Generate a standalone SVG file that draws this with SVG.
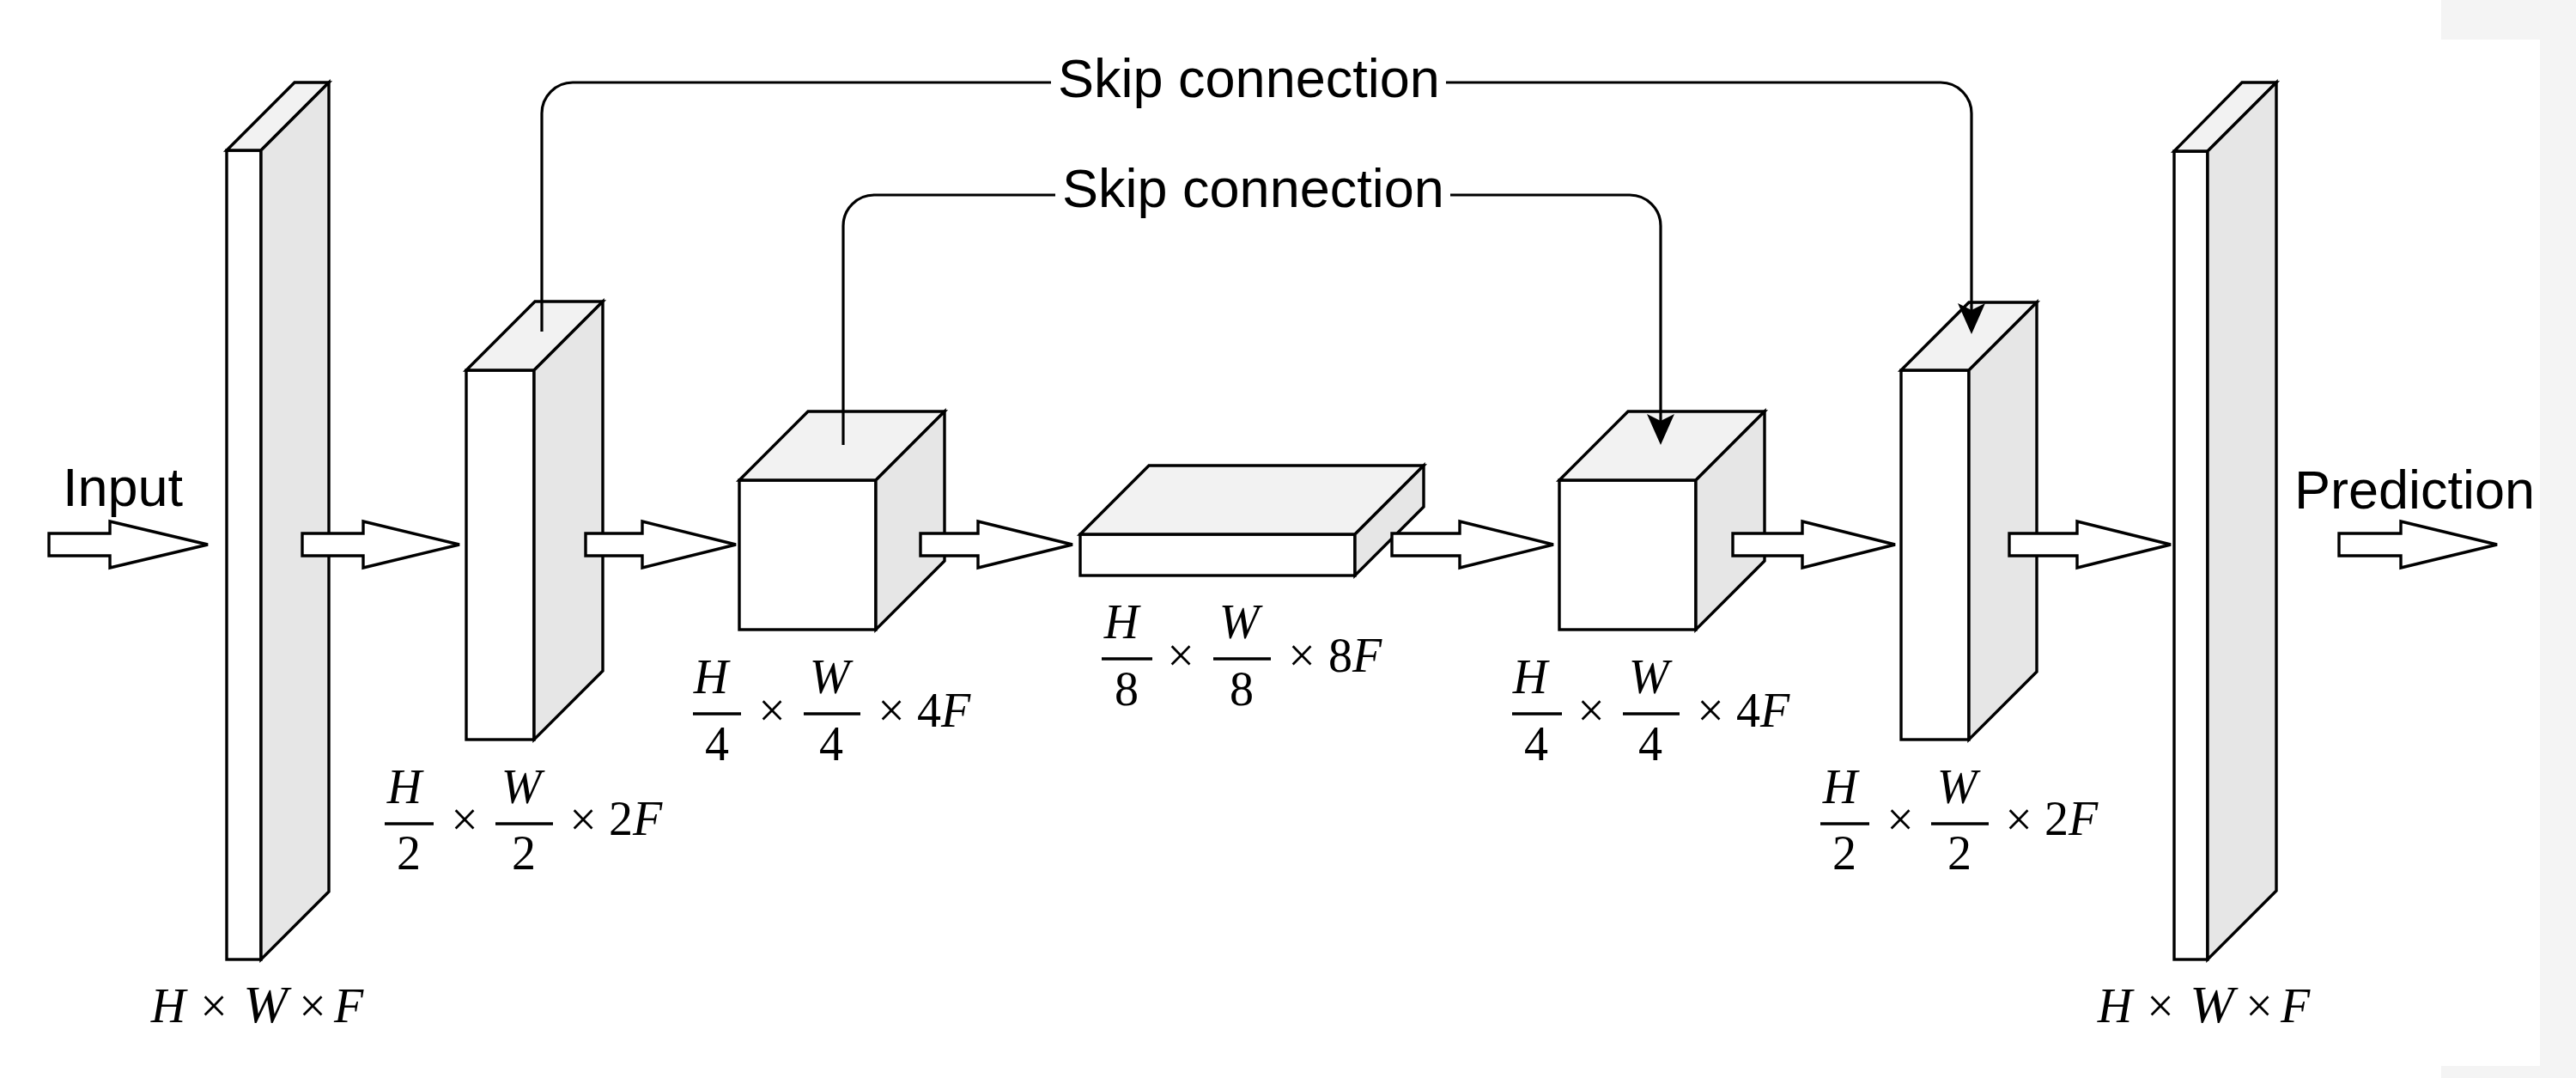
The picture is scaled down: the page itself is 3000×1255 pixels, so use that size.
<svg xmlns="http://www.w3.org/2000/svg" width="3000" height="1255" viewBox="0 0 3000 1255">
<style>
.front{fill:#ffffff;stroke:#000;stroke-width:3.4;stroke-linejoin:miter}
.top{fill:#f2f2f2;stroke:#000;stroke-width:3.4;stroke-linejoin:miter}
.side{fill:#e6e6e6;stroke:#000;stroke-width:3.4;stroke-linejoin:miter}
.barrow{fill:#ffffff;stroke:#000;stroke-width:3.4;stroke-linejoin:miter}
.skip{fill:none;stroke:#000;stroke-width:3.2}
.lbl{font-family:"Liberation Sans",Arial,sans-serif;font-size:63px;fill:#000}
.m{font-family:"Liberation Serif","Times New Roman",serif;font-size:56px;fill:#000}
.i{font-style:italic}
.bar{stroke:#000;stroke-width:3.5}
</style>
<defs>
<marker id="ah" markerUnits="userSpaceOnUse" markerWidth="40" markerHeight="40" viewBox="-10 -20 40 40" refX="0" refY="0" orient="auto" overflow="visible">
<path d="M28,0 L-8,-16 L0,0 L-8,16 Z" fill="#000"/>
</marker>
</defs>
<rect x="0" y="0" width="3000" height="1255" fill="#ffffff"/>
<rect x="2843" y="0" width="157" height="1255" fill="#f4f4f4"/>
<rect x="2843" y="46" width="115" height="1195" fill="#ffffff"/>

<g id="block1">
<rect class="front" x="264" y="175" width="40" height="942"/>
<polygon class="top" points="264,175 343,96 383,96 304,175"/>
<polygon class="side" points="304,175 383,96 383,1038 304,1117"/>
</g>
<g id="block2">
<rect class="front" x="543" y="431" width="79" height="430"/>
<polygon class="top" points="543,431 623,351 702,351 622,431"/>
<polygon class="side" points="622,431 702,351 702,781 622,861"/>
</g>
<g id="block3">
<rect class="front" x="861" y="559" width="159" height="174"/>
<polygon class="top" points="861,559 941,479 1100,479 1020,559"/>
<polygon class="side" points="1020,559 1100,479 1100,653 1020,733"/>
</g>
<g id="block4">
<rect class="front" x="1258" y="622" width="320" height="48"/>
<polygon class="top" points="1258,622 1338,542 1658,542 1578,622"/>
<polygon class="side" points="1578,622 1658,542 1658,590 1578,670"/>
</g>
<g id="block5">
<rect class="front" x="1816" y="559" width="159" height="174"/>
<polygon class="top" points="1816,559 1896,479 2055,479 1975,559"/>
<polygon class="side" points="1975,559 2055,479 2055,653 1975,733"/>
</g>
<g id="block6">
<rect class="front" x="2214" y="431" width="79" height="430"/>
<polygon class="top" points="2214,431 2293,352 2372,352 2293,431"/>
<polygon class="side" points="2293,431 2372,352 2372,782 2293,861"/>
</g>
<g id="block7">
<rect class="front" x="2532" y="176" width="39" height="941"/>
<polygon class="top" points="2532,176 2611,96 2651,96 2571,176"/>
<polygon class="side" points="2571,176 2651,96 2651,1037 2571,1117"/>
</g>

<g id="flow-arrows">
<polygon class="barrow" points="57,621 128,621 128,607 242,634 128,661 128,647 57,647"/>
<polygon class="barrow" points="352,621 423,621 423,607 535,634 423,661 423,647 352,647"/>
<polygon class="barrow" points="682,621 748,621 748,607 857,634 748,661 748,647 682,647"/>
<polygon class="barrow" points="1072,621 1139,621 1139,607 1249,634 1139,661 1139,647 1072,647"/>
<polygon class="barrow" points="1621,621 1700,621 1700,607 1809,634 1700,661 1700,647 1621,647"/>
<polygon class="barrow" points="2018,621 2099,621 2099,607 2207,634 2099,661 2099,647 2018,647"/>
<polygon class="barrow" points="2340,621 2419,621 2419,607 2528,634 2419,661 2419,647 2340,647"/>
<polygon class="barrow" points="2724,621 2796,621 2796,607 2908,634 2796,661 2796,647 2724,647"/>
</g>

<g id="connectors">
<path class="skip" d="M631,386 V132 A36,36 0 0 1 667,96 H1224"/>
<path class="skip" d="M1684,96 H2260 A36,36 0 0 1 2296,132 V361" marker-end="url(#ah)"/>
<path class="skip" d="M982,518 V263 A36,36 0 0 1 1018,227 H1229"/>
<path class="skip" d="M1689,227 H1898 A36,36 0 0 1 1934,263 V490" marker-end="url(#ah)"/>
</g>

<g id="labels">
<text class="lbl" x="1232" y="113">Skip connection</text>
<text class="lbl" x="1237" y="241">Skip connection</text>
<text class="lbl" x="73" y="589">Input</text>
<text class="lbl" x="2672" y="592">Prediction</text>
</g>

<g id="dim-block1" text-anchor="middle">
<text class="m i" x="196" y="1190">H</text>
<text class="m" x="249" y="1190">×</text>
<text class="m i" x="309" y="1190" style="font-size:62px">W</text>
<text class="m" x="364" y="1190">×</text>
<text class="m i" x="406" y="1190">F</text>
</g>
<g id="dim-block2" text-anchor="middle">
<text class="m i" x="471" y="935">H</text>
<line class="bar" x1="448" y1="959" x2="505" y2="959"/>
<text class="m" x="476" y="1012">2</text>
<text class="m" x="541" y="973">×</text>
<text class="m i" x="607" y="935">W</text>
<line class="bar" x1="577" y1="959" x2="644" y2="959"/>
<text class="m" x="610" y="1012">2</text>
<text class="m" x="679" y="973">×</text>
<text class="m" x="709" y="972" text-anchor="start">2<tspan class="i">F</tspan></text>
</g>
<g id="dim-block3" text-anchor="middle">
<text class="m i" x="828" y="807">H</text>
<line class="bar" x1="807" y1="831" x2="863" y2="831"/>
<text class="m" x="835" y="885">4</text>
<text class="m" x="899" y="846">×</text>
<text class="m i" x="966" y="807">W</text>
<line class="bar" x1="936" y1="831" x2="1002" y2="831"/>
<text class="m" x="968" y="885">4</text>
<text class="m" x="1038" y="846">×</text>
<text class="m" x="1068" y="846" text-anchor="start">4<tspan class="i">F</tspan></text>
</g>
<g id="dim-block4" text-anchor="middle">
<text class="m i" x="1306" y="743">H</text>
<line class="bar" x1="1283" y1="767" x2="1342" y2="767"/>
<text class="m" x="1312" y="821">8</text>
<text class="m" x="1375" y="782">×</text>
<text class="m i" x="1443" y="743">W</text>
<line class="bar" x1="1413" y1="767" x2="1480" y2="767"/>
<text class="m" x="1446" y="821">8</text>
<text class="m" x="1516" y="782">×</text>
<text class="m" x="1547" y="782" text-anchor="start">8<tspan class="i">F</tspan></text>
</g>
<g id="dim-block5" text-anchor="middle">
<text class="m i" x="1782" y="807">H</text>
<line class="bar" x1="1761" y1="831" x2="1819" y2="831"/>
<text class="m" x="1789" y="885">4</text>
<text class="m" x="1853" y="846">×</text>
<text class="m i" x="1920" y="807">W</text>
<line class="bar" x1="1890" y1="831" x2="1956" y2="831"/>
<text class="m" x="1922" y="885">4</text>
<text class="m" x="1992" y="846">×</text>
<text class="m" x="2022" y="846" text-anchor="start">4<tspan class="i">F</tspan></text>
</g>
<g id="dim-block6" text-anchor="middle">
<text class="m i" x="2143" y="935">H</text>
<line class="bar" x1="2120" y1="959" x2="2177" y2="959"/>
<text class="m" x="2148" y="1012">2</text>
<text class="m" x="2213" y="973">×</text>
<text class="m i" x="2279" y="935">W</text>
<line class="bar" x1="2249" y1="959" x2="2316" y2="959"/>
<text class="m" x="2282" y="1012">2</text>
<text class="m" x="2351" y="973">×</text>
<text class="m" x="2381" y="972" text-anchor="start">2<tspan class="i">F</tspan></text>
</g>
<g id="dim-block7" text-anchor="middle">
<text class="m i" x="2463" y="1190">H</text>
<text class="m" x="2516" y="1190">×</text>
<text class="m i" x="2576" y="1190" style="font-size:62px">W</text>
<text class="m" x="2631" y="1190">×</text>
<text class="m i" x="2673" y="1190">F</text>
</g>
</svg>
